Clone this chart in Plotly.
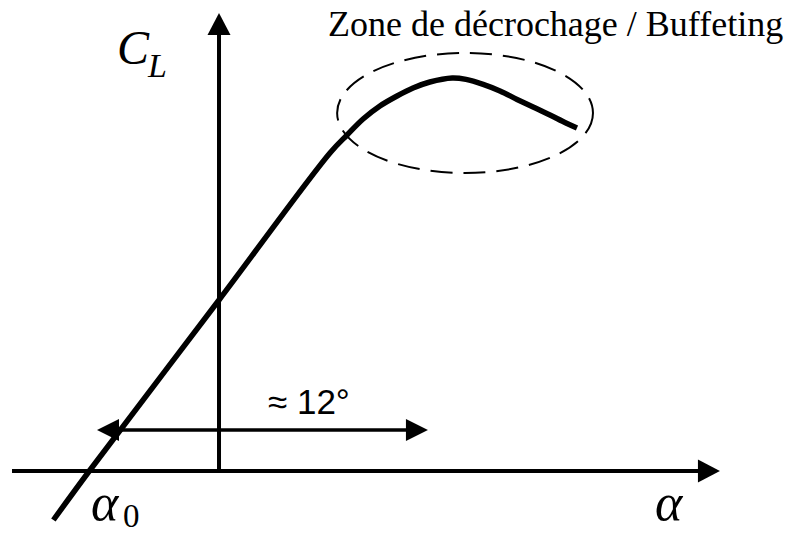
import plotly.graph_objects as go

# Lift curve C_L(alpha): linear range, then stall / buffeting region
alpha = [-6.0, -4.7, 0.0, 4.02, 4.64, 5.22, 5.83, 6.45, 7.03, 7.64, 8.45,
         8.95, 9.57, 10.18, 10.8, 11.38, 11.99, 12.57, 12.97]
cl = [-0.245, 0.0, 0.855, 1.59, 1.68, 1.76, 1.825, 1.875, 1.915, 1.945, 1.965,
      1.958, 1.933, 1.90, 1.858, 1.82, 1.78, 1.74, 1.715]

# Axis extents (degrees / C_L units)
x_axis_start, x_axis_end = -7.5, 18.15
y_axis_end = 2.29

# "≈ 12°" span marker
span_left, span_right, span_level = -4.42, 7.57, 0.205

# Stall zone ellipse bounds
zone_x = [4.28, 13.55]
zone_y = [1.49, 2.09]

X_RANGE = [-7.935, 20.797]
Y_RANGE = [-0.31, 2.355]
PX_X = 793 / (X_RANGE[1] - X_RANGE[0])
PX_Y = 533 / (Y_RANGE[1] - Y_RANGE[0])


def head(tip_x, tip_y, direction, length_px=22, half_px=11.5):
    """Filled triangular arrowhead pointing in direction (dx, dy)."""
    dx, dy = direction
    if dx != 0:
        bx = tip_x - dx * length_px / PX_X
        h = half_px / PX_Y
        return [tip_x, bx, bx, tip_x], [tip_y, tip_y + h, tip_y - h, tip_y]
    by = tip_y - dy * length_px / PX_Y
    w = half_px / PX_X
    return [tip_x, tip_x + w, tip_x - w, tip_x], [tip_y, by, by, tip_y]


fig = go.Figure()

black = "#000000"

# horizontal axis
fig.add_trace(go.Scatter(x=[x_axis_start, x_axis_end - 0.5], y=[0, 0], mode="lines",
                         line=dict(color=black, width=4), hoverinfo="skip"))
hx, hy = head(x_axis_end, 0, (1, 0))
fig.add_trace(go.Scatter(x=hx, y=hy, mode="lines", fill="toself", fillcolor=black,
                         line=dict(color=black, width=0), hoverinfo="skip"))

# vertical axis
fig.add_trace(go.Scatter(x=[0, 0], y=[0, y_axis_end - 0.05], mode="lines",
                         line=dict(color=black, width=4), hoverinfo="skip"))
vx, vy = head(0, y_axis_end, (0, 1))
fig.add_trace(go.Scatter(x=vx, y=vy, mode="lines", fill="toself", fillcolor=black,
                         line=dict(color=black, width=0), hoverinfo="skip"))

# double arrow for the ≈12° span
fig.add_trace(go.Scatter(x=[span_left + 0.3, span_right - 0.3], y=[span_level, span_level],
                         mode="lines", line=dict(color=black, width=3.5), hoverinfo="skip"))
for tip, d in ((span_left, -1), (span_right, 1)):
    ax_, ay_ = head(tip, span_level, (d, 0), length_px=22, half_px=11)
    fig.add_trace(go.Scatter(x=ax_, y=ay_, mode="lines", fill="toself", fillcolor=black,
                             line=dict(color=black, width=0), hoverinfo="skip"))

# lift curve
fig.add_trace(go.Scatter(x=alpha, y=cl, mode="lines",
                         line=dict(color=black, width=5.5, shape="spline", smoothing=1.0),
                         hoverinfo="skip"))

# stall zone ellipse
fig.add_shape(type="circle", xref="x", yref="y",
              x0=zone_x[0], x1=zone_x[1], y0=zone_y[0], y1=zone_y[1],
              line=dict(color=black, width=2, dash="22px,11px"))

serif = "Liberation Serif"
annotations = [
    dict(x=12.2, y=2.235, text="Zone de décrochage / Buffeting",
         font=dict(family=serif, size=36, color=black)),
    dict(x=-3.1, y=2.118, text="<i>C</i>", font=dict(family=serif, size=48, color=black)),
    dict(x=-2.25, y=2.03, text="<i>L</i>", font=dict(family=serif, size=34, color=black)),
    dict(x=-4.13, y=-0.155, text="<i>α</i>", font=dict(family=serif, size=52, color=black)),
    dict(x=-3.18, y=-0.225, text="0", font=dict(family=serif, size=33, color=black)),
    dict(x=16.34, y=-0.155, text="<i>α</i>", font=dict(family=serif, size=52, color=black)),
    dict(x=3.26, y=0.35, text="≈ 12°", font=dict(family="Liberation Sans", size=35, color=black)),
]
for a in annotations:
    fig.add_annotation(showarrow=False, xanchor="center", yanchor="middle", **a)

fig.update_layout(
    width=793, height=533,
    margin=dict(l=0, r=0, t=0, b=0),
    paper_bgcolor="white", plot_bgcolor="white",
    showlegend=False,
    xaxis=dict(range=X_RANGE, visible=False, fixedrange=True),
    yaxis=dict(range=Y_RANGE, visible=False, fixedrange=True),
)

fig.write_html("out.html", config={"displayModeBar": False})
